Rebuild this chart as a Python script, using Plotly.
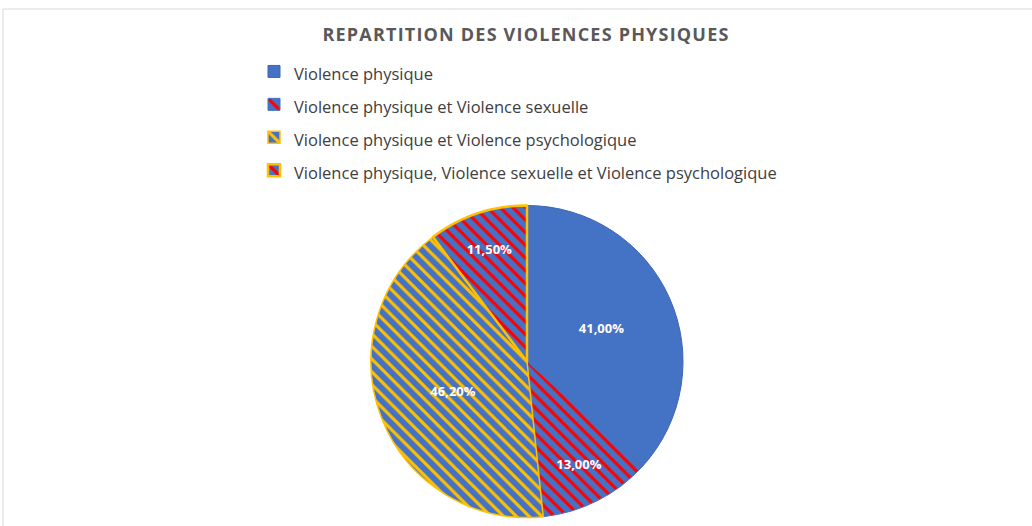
import plotly.graph_objects as go

categories = [
    "Violence physique",
    "Violence physique et Violence sexuelle",
    "Violence physique et Violence psychologique",
    "Violence physique, Violence sexuelle et Violence psychologique",
]
values = [41.0, 13.0, 46.2, 11.5]
value_labels = ["41,00%", "13,00%", "46,20%", "11,50%"]
title_text = "REPARTITION DES VIOLENCES PHYSIQUES"

W, H = 1032, 526
BLUE = "#4472C4"
RED = "#FF0000"
GOLD = "#FFC000"

fig = go.Figure()
fig.add_trace(go.Pie(
    labels=[f"<span style='font-size:16.5px'>{c}</span>" for c in categories],
    values=values,
    text=value_labels,
    texttemplate="%{text}",
    textinfo="text",
    textposition="inside",
    insidetextorientation="horizontal",
    textfont=dict(family="Open Sans", size=13, color="white", weight="bold"),
    sort=False,
    direction="clockwise",
    rotation=0,
    marker=dict(
        colors=[BLUE, BLUE, BLUE, BLUE],
        line=dict(color=["#3C66B0", "#4472C4", GOLD, GOLD], width=[1, 1, 1.5, 2.5]),
        pattern=dict(
            shape=["", "\\", "\\", "\\"],
            fgcolor=[BLUE, RED, GOLD, RED],
            bgcolor=[BLUE, BLUE, BLUE, BLUE],
            fgopacity=1,
            size=9,
            solidity=0.35,
            fillmode="replace",
        ),
    ),
    domain=dict(x=[371 / W, 683 / W], y=[(H - 518) / H, (H - 205) / H]),
    hoverinfo="label+text",
))

fig.update_layout(
    width=W,
    height=H,
    autosize=False,
    margin=dict(l=0, r=0, t=0, b=0),
    paper_bgcolor="white",
    plot_bgcolor="white",
    title=dict(
        text=f"<b><span style='letter-spacing:1.2px'>{title_text}</span></b>",
        x=526 / W, xanchor="center",
        y=1 - 35 / H, yanchor="middle",
        font=dict(family="Open Sans", size=18, color="#595959"),
    ),
    legend=dict(
        x=254 / W, xanchor="left",
        y=1 - 50 / H, yanchor="top",
        font=dict(family="Open Sans", size=23, color="#404040"),
        bgcolor="rgba(0,0,0,0)",
        itemwidth=30,
        traceorder="normal",
    ),
    showlegend=True,
    shapes=[dict(
        type="rect", xref="paper", yref="paper",
        x0=3 / W, x1=1.01, y0=-0.01, y1=1 - 9 / H,
        line=dict(color="#D9D9D9", width=1),
        fillcolor="rgba(0,0,0,0)",
        layer="below",
    )],
)

fig.write_html(
    "out.html",
    config={"displayModeBar": False},
    post_script="document.body.style.margin='0';document.body.style.overflow='hidden';",
)
